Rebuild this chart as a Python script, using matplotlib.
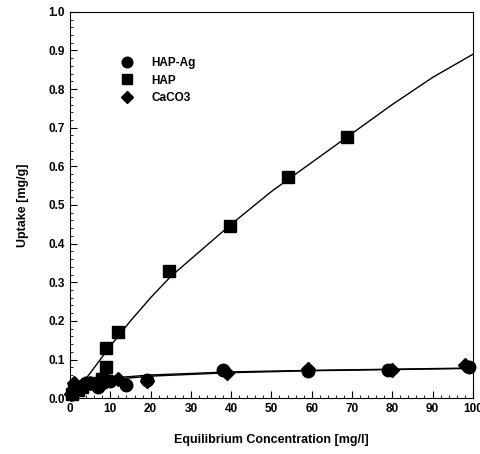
import matplotlib
matplotlib.use("Agg")
import matplotlib.pyplot as plt
from matplotlib.ticker import MultipleLocator

plt.rcParams['font.family'] = ['Liberation Sans', 'DejaVu Sans']
plt.rcParams['font.weight'] = 'bold'

# measured points
ag_x = [0.5, 1, 2, 4, 7, 8, 10, 14, 19, 38, 59, 79, 99]
ag_y = [0.01, 0.02, 0.03, 0.04, 0.03, 0.04, 0.045, 0.035, 0.048, 0.072, 0.07, 0.072, 0.08]
hap_x = [0.5, 1, 2, 3, 5, 8, 8.9, 9, 12, 24.6, 39.6, 54, 68.7]
hap_y = [0.01, 0.02, 0.02, 0.03, 0.04, 0.05, 0.08, 0.129, 0.172, 0.33, 0.446, 0.573, 0.675]
ca_x = [0.3, 1, 3, 5, 9, 12, 19, 39, 59, 80, 98]
ca_y = [0.01, 0.04, 0.035, 0.04, 0.045, 0.05, 0.045, 0.065, 0.075, 0.073, 0.085]

# fitted curves
hap_fit_x = [3.5, 5, 10, 15, 20, 25, 30, 40, 50, 60, 70, 80, 90, 100]
hap_fit_y = [0.045, 0.065, 0.135, 0.2, 0.26, 0.315, 0.36, 0.45, 0.535, 0.61, 0.685, 0.76, 0.83, 0.89]
ag_fit_x = [2, 5, 10, 20, 40, 60, 80, 100]
ag_fit_y = [0.035, 0.045, 0.052, 0.06, 0.068, 0.072, 0.075, 0.078]
ca_fit_x = [2, 5, 10, 20, 40, 60, 80, 100]
ca_fit_y = [0.03, 0.04, 0.048, 0.057, 0.066, 0.071, 0.074, 0.077]

fig = plt.figure(figsize=(4.8, 4.54), dpi=100)
ax = fig.add_axes([0.146, 0.123, 0.839, 0.851])

ax.plot(hap_fit_x, hap_fit_y, color='black', lw=1)
ax.plot(ag_fit_x, ag_fit_y, color='black', lw=1)
ax.plot(ca_fit_x, ca_fit_y, color='black', lw=1)

ax.plot(ag_x, ag_y, 'o', color='black', ms=9, label='HAP-Ag', clip_on=False)
ax.plot(hap_x, hap_y, 's', color='black', ms=8, label='HAP', clip_on=False)
ax.plot(ca_x, ca_y, 'D', color='black', ms=7.5, label='CaCO3', clip_on=False)

ax.set_xlim(0, 100)
ax.set_ylim(0, 1.0)
ax.xaxis.set_major_locator(MultipleLocator(10))
ax.xaxis.set_minor_locator(MultipleLocator(2))
ax.yaxis.set_major_locator(MultipleLocator(0.1))
ax.yaxis.set_minor_locator(MultipleLocator(0.02))
ax.yaxis.set_major_formatter(plt.FormatStrFormatter('%.1f'))
ax.tick_params(which='both', direction='in', top=False, right=False, labelsize=8.5)
ax.tick_params(which='major', length=5)
ax.tick_params(which='minor', length=2.5)

ax.set_xlabel('Equilibrium Concentration [mg/l]', fontsize=9, fontweight='bold', labelpad=14)
ax.set_ylabel('Uptake [mg/g]', fontsize=9, fontweight='bold', labelpad=14)

leg = ax.legend(loc='upper left', bbox_to_anchor=(0.1, 0.91), frameon=False, fontsize=8.5,
                handletextpad=1.6, labelspacing=0.45, handlelength=1, markerscale=0.85)

plt.savefig('out.png', dpi=100)
